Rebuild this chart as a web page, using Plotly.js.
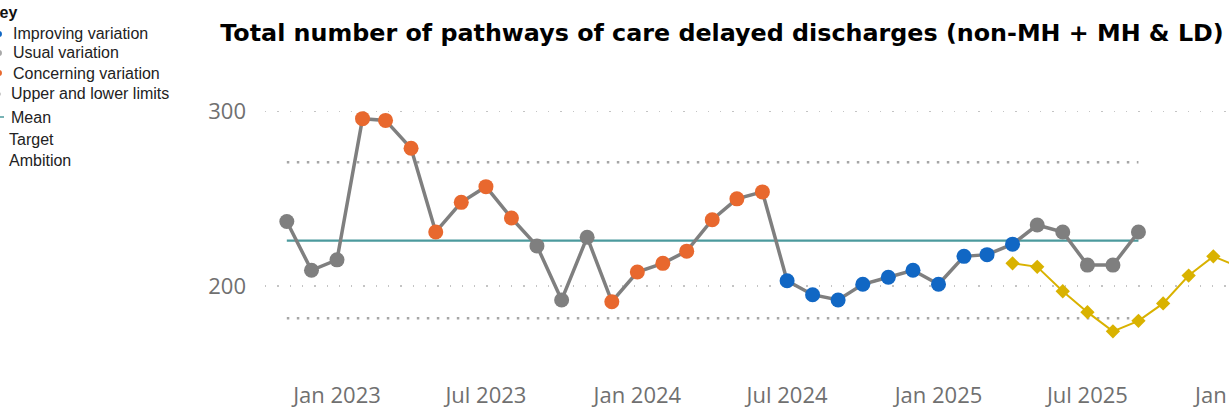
<!DOCTYPE html>
<html>
<head>
<meta charset="utf-8">
<script src="https://cdn.plot.ly/plotly-3.0.1.min.js"></script>
<style>
  html, body { margin: 0; padding: 0; overflow: hidden; background: #fff; }
  #chart { position: absolute; left: 0; top: 0; }
</style>
</head>
<body>
<div id="chart"></div>
<script>
// ---------------- DATA ----------------
const months = [
  "2022-11-01","2022-12-01","2023-01-01","2023-02-01","2023-03-01","2023-04-01",
  "2023-05-01","2023-06-01","2023-07-01","2023-08-01","2023-09-01","2023-10-01",
  "2023-11-01","2023-12-01","2024-01-01","2024-02-01","2024-03-01","2024-04-01",
  "2024-05-01","2024-06-01","2024-07-01","2024-08-01","2024-09-01","2024-10-01",
  "2024-11-01","2024-12-01","2025-01-01","2025-02-01","2025-03-01","2025-04-01",
  "2025-05-01","2025-06-01","2025-07-01","2025-08-01","2025-09-01"
];
const values = [
  237, 209, 215, 296, 295, 279,
  231, 248, 257, 239, 223, 192,
  228, 191, 208, 213, 220, 238,
  250, 254, 203, 195, 192, 201,
  205, 209, 201, 217, 218, 224,
  235, 231, 212, 212, 231
];
// "usual" | "concerning" | "improving"
const variation = [
  "usual","usual","usual","concerning","concerning","concerning",
  "concerning","concerning","concerning","concerning","usual","usual",
  "usual","concerning","concerning","concerning","concerning","concerning",
  "concerning","concerning","improving","improving","improving","improving",
  "improving","improving","improving","improving","improving","improving",
  "usual","usual","usual","usual","usual"
];
const meanValue = 226;
const upperLimit = 271;
const lowerLimit = 181.5;

const ambitionMonths = [
  "2025-04-01","2025-05-01","2025-06-01","2025-07-01","2025-08-01","2025-09-01",
  "2025-10-01","2025-11-01","2025-12-01","2026-01-01"
];
const ambitionValues = [213, 211, 197, 185, 174, 180, 190, 206, 217, 211];

const legendLabels = ["Improving variation","Usual variation","Concerning variation",
  "Upper and lower limits","Mean","Target","Ambition"];
const titleText = "Total number of pathways of care delayed discharges (non-MH + MH & LD)";

// ---------------- STYLE / LAYOUT ----------------
const colors = { usual: "#7f7f7f", concerning: "#E8682E", improving: "#1167C4" };
const W = 1330, H = 411;
const plotLeft = 265, plotTop = 60, plotBottom = 380;
const plotW = W - plotLeft, plotH = plotBottom - plotTop;

// x pixel mapping (Jan 2023 at 337px, Jan 2025 at 938.5px)
const dayMs = 86400000;
const refDate = Date.UTC(2023,0,1);
const pxPerDay = (938.5 - 337) / 731;
const xStart = new Date(refDate - (337 - plotLeft) / pxPerDay * dayMs);
const xEnd = new Date(refDate + (W - 337) / pxPerDay * dayMs);
// y pixel mapping (200 at 286px, 300 at 111.7px)
const pxPerUnit = (286 - 111.7) / 100;
const yTop = 200 + (286 - plotTop) / pxPerUnit;
const yBot = 200 - (plotBottom - 286) / pxPerUnit;

const constArr = (v) => months.map(() => v);

const traces = [
  { x: months, y: constArr(upperLimit), mode: "lines", hoverinfo: "skip",
    line: { color: "#a6a6a6", width: 2.5, dash: "2.5px,7.5px" } },
  { x: months, y: constArr(lowerLimit), mode: "lines", hoverinfo: "skip",
    line: { color: "#a6a6a6", width: 2.5, dash: "2.5px,7.5px" } },
  { x: months, y: constArr(meanValue), mode: "lines",
    line: { color: "#4b9a9d", width: 2.2 } },
  { x: ambitionMonths, y: ambitionValues, mode: "lines+markers",
    line: { color: "#D9B200", width: 2 },
    marker: { symbol: "diamond", size: 11, color: "#D9B200" } },
  { x: months, y: values, mode: "lines+markers",
    line: { color: "#7f7f7f", width: 3.5 },
    marker: { size: 15, color: variation.map(v => colors[v]) } }
];

const px = (p) => (p - plotLeft) / plotW;
const py = (p) => (plotBottom - p) / plotH;

const legendFont = { family: "Liberation Sans, Arial, sans-serif", size: 16, color: "#222" };
const legendPos = [[11,34],[11,53],[11,73],[9,94],[9,117],[7,139],[7,160]];
const annotations = [
  { text: "<b>Key</b>", xref: "paper", yref: "paper", x: px(-14), y: py(13),
    xanchor: "left", yanchor: "middle", showarrow: false,
    font: { family: "Liberation Sans, Arial, sans-serif", size: 16, color: "#111" } }
].concat(legendLabels.map((t, i) => ({
  text: t, xref: "paper", yref: "paper", x: px(legendPos[i][0]), y: py(legendPos[i][1]),
  xanchor: "left", yanchor: "middle", showarrow: false, font: legendFont
})));

const dot = (cx, cy, r, col) => ({ type: "circle", xref: "paper", yref: "paper",
  x0: px(cx - r), x1: px(cx + r), y0: py(cy + r), y1: py(cy - r),
  fillcolor: col, line: { width: 0 } });
const shapes = [
  dot(-1, 34, 3, "#1167C4"),
  dot(-1, 53, 3, "#a8a8a8"),
  dot(-1, 73, 3, "#E8682E"),
  dot(-1, 94, 2, "#c8c8c8"),
  { type: "line", xref: "paper", yref: "paper", x0: px(-2), x1: px(4), y0: py(117), y1: py(117),
    line: { color: "#4b9a9d", width: 1.5 } }
];

const layout = {
  width: W, height: H,
  margin: { l: plotLeft, r: 0, t: plotTop, b: H - plotBottom, pad: 0 },
  paper_bgcolor: "#fff", plot_bgcolor: "#fff",
  showlegend: false,
  title: { text: "<b>" + titleText + "</b>", xref: "container", yref: "container",
    x: 722 / W, xanchor: "center", y: 1 - 33 / H, yanchor: "middle",
    font: { family: "DejaVu Sans, sans-serif", size: 23.8, color: "#000" } },
  xaxis: {
    type: "date", range: [xStart.toISOString(), xEnd.toISOString()],
    tick0: "2023-01-01", dtick: "M6", tickformat: "%b %Y",
    showgrid: false, zeroline: false, showline: false, ticks: "",
    ticklabelstandoff: 0,
    tickfont: { family: "Open Sans, sans-serif", size: 22, color: "#707070" }
  },
  yaxis: {
    range: [yBot, yTop], tickvals: [100, 200, 300], ticktext: ["100","200","300"],
    showgrid: true, gridcolor: "#c4c4c4", gridwidth: 1.3, griddash: "1.3px,11px",
    zeroline: false, showline: false, ticks: "", ticklabelstandoff: 18,
    tickfont: { family: "Open Sans, sans-serif", size: 22, color: "#707070" }
  },
  annotations: annotations,
  shapes: shapes
};

Plotly.newPlot("chart", traces, layout, { staticPlot: true, displayModeBar: false });
</script>
</body>
</html>
